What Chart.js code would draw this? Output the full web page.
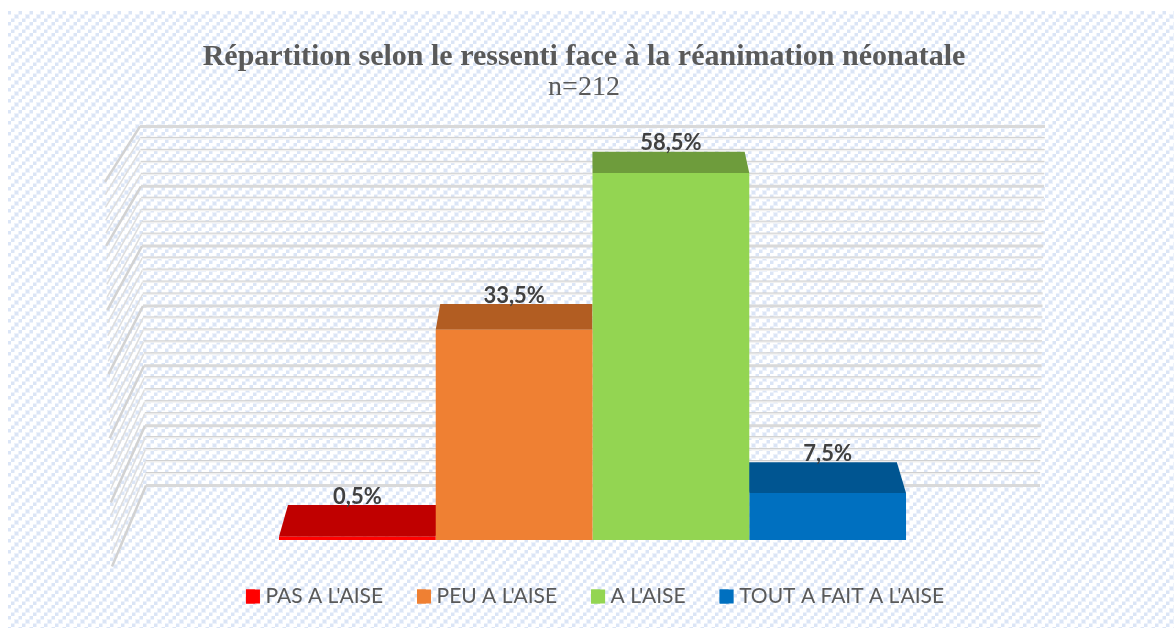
<!DOCTYPE html>
<html><head><meta charset="utf-8">
<style>html,body{margin:0;padding:0;background:#fff}canvas{display:block}</style>
<script src="https://cdn.jsdelivr.net/npm/chart.js@4"></script></head>
<body><canvas id="c" width="1174" height="628"></canvas>
<script>
const categories = [""];
const seriesNames = ["PAS A L'AISE","PEU A L'AISE","A L'AISE","TOUT A FAIT A L'AISE"];
const seriesValues = [0.5,33.5,58.5,7.5];
const frontColors = ["#FF0000","#EF8033","#93D552","#0070C0"];
const topColors = ["#C00000","#B25D22","#6E9C3C","#005591"];
const titleText = "Répartition selon le ressenti face à la réanimation néonatale";
const subtitleText = "n=212";
const axisMax = 60, minorStep = 2, majorStep = 10;

function hatch(ctx){
  const t=document.createElement('canvas');t.width=t.height=11;const g=t.getContext('2d');
  g.fillStyle='#fff';g.fillRect(0,0,11,11);
  g.fillStyle='#edf2fb';
  [[0,8],[4,4],[8,0]].forEach(p=>g.fillRect(p[0]-1,p[1]-1,5,5));
  g.fillStyle='#dbe5f6';
  [[0,8],[4,4],[8,0]].forEach(p=>g.fillRect(p[0],p[1],3,3));
  return ctx.createPattern(t,'repeat');
}
const backX=x=>590+0.971*(x-590);
const backY=y=>508+0.971*(y-540);
const plugin3d={
  id:'plot3d',
  beforeDraw(chart){
    const c=chart.ctx;
    c.save();c.fillStyle='#fff';c.fillRect(0,0,chart.width,chart.height);
    c.fillStyle=hatch(c);c.fillRect(8,11,chart.width-8,chart.height-11);c.restore();
    if(!chart.$shifted){
      chart.$shifted=true;
      chart.boxes.forEach(b=>{ if(b.options&&b.options.text){b.left-=8.5;b.right-=8.5;} });
      const l=chart.legend;l.left+=2.5;l.right+=2.5;
      l.legendHitBoxes.forEach(h=>{h.left+=2.5;});
    }
  },
  beforeDatasetsDraw(chart){
    const c=chart.ctx,y=chart.scales.y,a=chart.chartArea;
    const ticks=y.ticks.map(t=>t.value).filter(v=>v%minorStep===0).sort((p,q)=>(p%majorStep===0)-(q%majorStep===0));
    c.save();c.lineCap='butt';
    ticks.forEach(v=>{
      const py=y.getPixelForValue(v),t=v/axisMax,major=v%majorStep===0;
      const by=485.5+0.954*(py-540), fy=566.5+1.022*(py-540);
      const bl=a.left+34-6*t, br=a.right-33+5*t, fl=a.left-7*t;
      c.beginPath();c.moveTo(fl,fy);c.lineTo(bl,by);
      c.strokeStyle=major?'#d2d2d2':'#dedede';c.lineWidth=major?2.5:1.5;c.stroke();
      c.beginPath();c.moveTo(bl,by);c.lineTo(br,by);
      if(major){c.strokeStyle='#d9d9d9';c.lineWidth=3;c.stroke();}
      else{c.strokeStyle='#f0f0f0';c.lineWidth=2;c.stroke();
        c.beginPath();c.moveTo(bl,by-1);c.lineTo(br,by-1);c.strokeStyle='#d0d0d0';c.lineWidth=1;c.stroke();}
    });
    chart.data.datasets.forEach((d,i)=>{
      const b=chart.getDatasetMeta(i).data[0],l=b.x-b.width/2,r=b.x+b.width/2;
      c.beginPath();c.moveTo(l,b.y);c.lineTo(r,b.y);c.lineTo(backX(r),backY(b.y));c.lineTo(backX(l),backY(b.y));c.closePath();
      c.fillStyle=topColors[i];c.fill();
    });
    c.restore();
  },
  afterDatasetsDraw(chart){
    const c=chart.ctx;c.save();
    c.font='bold 22px Lato';c.fillStyle='#404040';c.textAlign='center';c.textBaseline='middle';
    chart.data.datasets.forEach((d,i)=>{
      const b=chart.getDatasetMeta(i).data[0];
      c.fillText(String(seriesValues[i]).replace('.',',')+'%',b.x,backY(b.y)-8.5);
    });
    c.restore();
  },
  afterDraw(chart){
    const c=chart.ctx;c.save();
    chart.legend.legendHitBoxes.forEach((h,i)=>{c.fillStyle=frontColors[i];c.fillRect(h.left,h.top+h.height/2-7,14,14);});
    c.restore();
  }
};
new Chart(document.getElementById('c'),{
  type:'bar',
  data:{labels:categories,datasets:seriesNames.map((n,i)=>({label:n,data:[seriesValues[i]],backgroundColor:frontColors[i],borderWidth:0}))},
  options:{
    responsive:false,animation:false,
    categoryPercentage:0.6525,barPercentage:1,
    layout:{padding:{left:112,right:101,top:0,bottom:11}},
    scales:{
      x:{grid:{display:false},border:{display:false},ticks:{display:false},afterFit:s=>{s.height=12;}},
      y:{min:0,max:axisMax,grid:{display:false},border:{display:false},ticks:{display:false,stepSize:minorStep},afterFit:s=>{s.width=0;}}
    },
    plugins:{
      tooltip:{enabled:false},
      title:{display:true,text:titleText,color:'#595959',font:{family:'"Liberation Serif"',size:30,weight:'bold'},padding:{top:39,bottom:-5}},
      subtitle:{display:true,text:subtitleText,color:'#595959',font:{family:'"Liberation Serif"',size:28,weight:'normal'},padding:{top:1,bottom:59}},
      legend:{position:'bottom',labels:{boxWidth:9,boxHeight:14,padding:34,color:'#595959',font:{family:'Lato',size:21}}}
    }
  },
  plugins:[plugin3d]
});
</script></body></html>
